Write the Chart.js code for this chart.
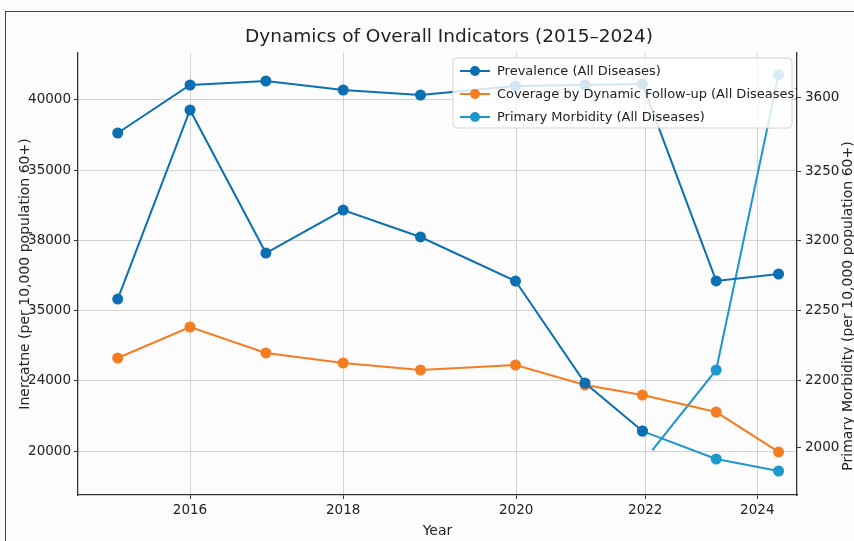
<!DOCTYPE html>
<html>
<head>
<meta charset="utf-8">
<script src="https://cdn.jsdelivr.net/npm/chart.js@4.4.1/dist/chart.umd.min.js"></script>
<style>
    html, body { margin: 0; padding: 0; background: #fcfcfc; overflow: hidden; }
    #wrap { position: relative; width: 854px; height: 541px; }
    #frame { position: absolute; left: 5px; top: 11px; width: 900px; height: 600px; border: 1.5px solid #444; box-sizing: border-box; pointer-events: none; }
    canvas { position: absolute; left: 0; top: 0; }
</style>
</head>
<body>
<div id="wrap">
    <canvas id="chart" width="854" height="541"></canvas>
    <div id="frame"></div>
</div>
<script>
// Years and where each point sits on the (uneven) year axis of the picture
const years = [2015, 2016, 2017, 2018, 2019, 2020, 2021, 2022, 2023, 2024];
const xPos = [2014.98, 2016, 2017.07, 2018.16, 2019.25, 2020.59, 2021.57, 2022.38, 2023.42, 2024.30];

// Left axis series
const prevalence = [38120, 40855, 41083, 40570, 40285, 40800, 40855, 40910, 29690, 30085];
const prevalenceLow = [28660, 39430, 31280, 33730, 32195, 29685, 23875, 21140, null, null];
const coverage = [25300, 27065, 25585, 25015, 24615, 24900, 23760, 23190, 22220, 19945];

// Right axis series
const primaryMorbidity = [null, null, null, null, null, null, null, 2073, 1945, 1890];
const primaryRiseX = [2022.52, 2023.42, 2024.30];
const primaryRise = [1986, 2353, 3706];

// Tick labels (as printed in the picture)
const xTickValues = [2016, 2018.16, 2020.60, 2022.42, 2024];
const xTickLabels = ['2016', '2018', '2020', '2022', '2024'];
const leftTickValues = [20000, 24000, 28000, 32000, 36000, 40000];
const leftTickLabels = ['20000', '24000', '35000', '38000', '35000', '40000'];
const rightTickValues = [2000, 2303, 2624, 2945, 3265, 3600];
const rightTickLabels = ['2000', '2200', '2250', '3200', '3250', '3600'];

const DARK_BLUE = '#0b6fb2';
const ORANGE = '#f47d22';
const LIGHT_BLUE = '#1d98cd';

function points(xs, ys) {
    return ys.map((y, i) => ({ x: xs[i], y: y })).filter(p => p.y !== null);
}

function series(label, data, color, axis, extra) {
    return Object.assign({
        label: label,
        data: data,
        borderColor: color,
        backgroundColor: color,
        borderWidth: 2,
        pointRadius: 5.5,
        pointHoverRadius: 5.5,
        pointBorderWidth: 0,
        tension: 0,
        yAxisID: axis,
        inLegend: true
    }, extra || {});
}

// Titles and the boxed legend are drawn here
const decor = {
    id: 'decor',
    afterDatasetsDraw(chart) {
        const ctx = chart.ctx;
        const area = chart.chartArea;
        ctx.save();
        // legend box
        const bx = 453, by = 58, bw = 339, bh = 70;
        ctx.beginPath();
        ctx.roundRect(bx, by, bw, bh, 4);
        ctx.fillStyle = 'rgba(255,255,255,0.82)';
        ctx.fill();
        ctx.strokeStyle = '#d4d4d4';
        ctx.lineWidth = 1;
        ctx.stroke();
        ctx.beginPath();
        ctx.rect(area.left, area.top, area.right - area.left, area.bottom - area.top);
        ctx.clip();
        const items = chart.data.datasets.filter(d => d.inLegend);
        items.forEach((d, i) => {
            const y = 71 + i * 23;
            ctx.strokeStyle = d.borderColor;
            ctx.lineWidth = 2;
            ctx.beginPath();
            ctx.moveTo(460, y);
            ctx.lineTo(490, y);
            ctx.stroke();
            ctx.fillStyle = d.borderColor;
            ctx.beginPath();
            ctx.arc(475, y, 5, 0, Math.PI * 2);
            ctx.fill();
            ctx.fillStyle = '#222';
            ctx.font = '13px "DejaVu Sans"';
            ctx.textAlign = 'left';
            ctx.textBaseline = 'middle';
            ctx.fillText(d.label, 497, y + 1);
        });
        ctx.restore();
    },
    afterDraw(chart) {
        const ctx = chart.ctx;
        ctx.save();
        ctx.fillStyle = '#222';
        ctx.textAlign = 'center';
        ctx.textBaseline = 'middle';
        ctx.font = '18.5px "DejaVu Sans"';
        ctx.fillText('Dynamics of Overall Indicators (2015\u20132024)', 449, 37);
        // right axis title, reading bottom to top
        ctx.translate(848, 306);
        ctx.rotate(-Math.PI / 2);
        ctx.font = '14px "DejaVu Sans"';
        ctx.fillText('Primary Morbidity (per 10,000 population 60+)', 0, 0);
        ctx.restore();
    }
};

Chart.defaults.font.family = '"DejaVu Sans", sans-serif';
Chart.defaults.color = '#222';

new Chart(document.getElementById('chart'), {
    type: 'line',
    data: {
        datasets: [
            series('Prevalence (All Diseases)', points(xPos, prevalence), DARK_BLUE, 'y'),
            series('Prevalence', points(xPos, prevalenceLow), DARK_BLUE, 'y', { inLegend: false }),
            series('Coverage by Dynamic Follow-up (All Diseases)', points(xPos, coverage), ORANGE, 'y'),
            series('Primary Morbidity (All Diseases)', points(xPos, primaryMorbidity), LIGHT_BLUE, 'y1'),
            series('Primary Morbidity', points(primaryRiseX, primaryRise), LIGHT_BLUE, 'y1', { inLegend: false, pointRadius: [0, 5.5, 5.5] })
        ]
    },
    options: {
        responsive: false,
        animation: false,
        layout: { padding: { top: 53, left: 0, right: 0, bottom: 0 } },
        plugins: {
            legend: { display: false },
            title: { display: false },
            tooltip: { enabled: false }
        },
        scales: {
            x: {
                type: 'linear',
                min: 2014.42,
                max: 2024.56,
                afterBuildTicks: s => { s.ticks = xTickValues.map(v => ({ value: v })); },
                afterFit: s => { s.height = 46; },
                ticks: {
                    autoSkip: false,
                    maxRotation: 0,
                    padding: 3,
                    font: { size: 13.5 },
                    callback: (v, i) => xTickLabels[i]
                },
                grid: { color: '#d3d3d3', lineWidth: 1, tickLength: 4, tickColor: '#333' },
                border: { color: '#333', width: 1.3 },
                title: { display: true, text: 'Year', font: { size: 14 }, padding: { top: 0, bottom: 1 } }
            },
            y: {
                type: 'linear',
                position: 'left',
                min: 17493,
                max: 42678,
                afterBuildTicks: s => { s.ticks = leftTickValues.map(v => ({ value: v })); },
                afterFit: s => { s.width = 78; },
                ticks: {
                    padding: 3,
                    font: { size: 13.5 },
                    callback: (v, i) => leftTickLabels[i]
                },
                grid: { color: '#d3d3d3', lineWidth: 1, tickLength: 4, tickColor: '#333' },
                border: { color: '#333', width: 1.3 },
                title: { display: true, text: 'Inercatne (per 10,000 population 60+)', font: { size: 14 }, padding: { top: 17 } }
            },
            y1: {
                type: 'linear',
                position: 'right',
                min: 1780,
                max: 3806,
                afterBuildTicks: s => { s.ticks = rightTickValues.map(v => ({ value: v })); },
                afterFit: s => { s.width = 57; },
                ticks: {
                    padding: 4,
                    font: { size: 13.5 },
                    callback: (v, i) => rightTickLabels[i]
                },
                grid: { drawOnChartArea: false, tickLength: 4, tickColor: '#333' },
                border: { color: '#333', width: 1.3 }
            }
        }
    },
    plugins: [decor]
});
</script>
</body>
</html>
